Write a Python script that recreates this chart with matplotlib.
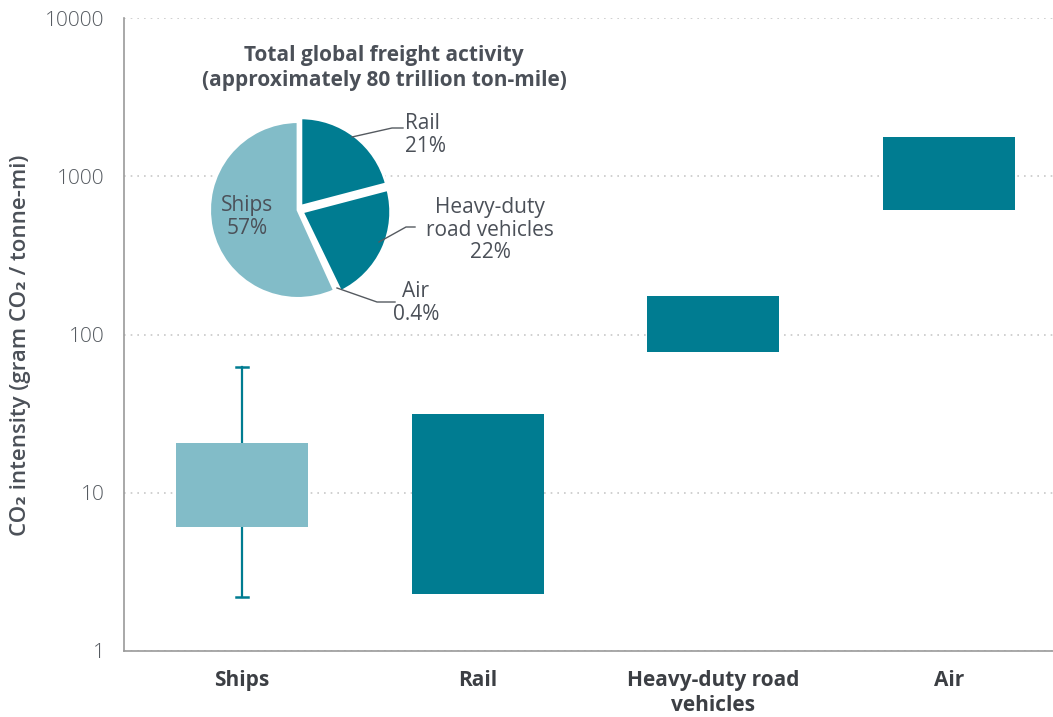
import matplotlib.pyplot as plt

plt.rcParams['font.family'] = ['Open Sans', 'DejaVu Sans']

# CO2 intensity ranges per mode (gram CO2 / tonne-mi), log scale
modes = ["Ships", "Rail", "Heavy-duty road\nvehicles", "Air"]
low = [6.1, 2.3, 77, 610]
high = [20.7, 31.6, 174, 1760]
ship_whisker = [2.2, 62]

# share of total freight activity
pie_labels = ["Rail", "Heavy-duty road vehicles", "Air", "Ships"]
pie_shares = [21, 22, 0.4, 57]

light = "#82bcc8"
dark = "#007c91"
text_col = "#4b5058"
axis_col = "#9a9a9a"

fig = plt.figure(figsize=(10.53, 7.17), dpi=100)
ax = fig.add_axes([124 / 1053, 66 / 717, 929 / 1053, 633 / 717])

x = list(range(len(modes)))
heights = [h - l for h, l in zip(high, low)]
colors = [light, dark, dark, dark]
ax.bar(x, heights, bottom=low, width=0.56, color=colors, zorder=3)

# whiskers on the ships bar
ax.plot([0, 0], [ship_whisker[0], low[0]], color=dark, lw=1.6, zorder=2)
ax.plot([0, 0], [high[0], ship_whisker[1]], color=dark, lw=1.6, zorder=2)
for v in ship_whisker:
    ax.plot([-0.025, 0.025], [v, v], color=dark, lw=1.8, zorder=2)

ax.set_yscale("log")
ax.set_ylim(1, 10000)
ax.set_xlim(-0.5, 3.44)
ax.set_yticks([1, 10, 100, 1000, 10000])
ax.set_yticklabels(["1", "10", "100", "1000", "10000"])
ax.minorticks_off()
ax.set_xticks(x)
ax.set_xticklabels(modes, fontsize=15, fontweight="bold", color="#3c3f44",
                   linespacing=1.2, va="top")
ax.tick_params(axis="x", length=0, pad=14)
ax.tick_params(axis="y", length=0, pad=14, labelsize=15, labelcolor="#555a60")
for t in ax.get_yticklabels():
    t.set_fontweight("light")
ax.grid(axis="y", linestyle=(0, (1, 3)), color="#c8c8c8", lw=1.2, zorder=0)
for s in ["top", "right"]:
    ax.spines[s].set_visible(False)
for s in ["left", "bottom"]:
    ax.spines[s].set_color(axis_col)
    ax.spines[s].set_linewidth(1.2)

fig.text(21 / 1053, 1 - 345 / 717, "CO\u2082 intensity (gram CO\u2082 / tonne-mi)",
         rotation=90, ha="center", va="center", fontsize=16,
         fontweight="semibold", color=text_col)

# inset pie of freight activity
pax = fig.add_axes([(298 - 95) / 1053, 1 - (210 + 95) / 717, 190 / 1053, 190 / 717])
wedges, _ = pax.pie(pie_shares, startangle=90, counterclock=False,
                    colors=[dark, dark, dark, light],
                    explode=[0.05, 0.05, 0.05, 0],
                    radius=0.93,
                    wedgeprops=dict(edgecolor="white", linewidth=2))
pax.set_xlim(-1, 1)
pax.set_ylim(-1, 1)
pax.set_aspect("equal")

fig.text(384 / 1053, 1 - 68 / 717,
         "Total global freight activity\n(approximately 80 trillion ton-mile)",
         ha="center", va="center", fontsize=15, fontweight="bold",
         color=text_col, linespacing=1.2)

lab_kw = dict(fontsize=15, color=text_col, linespacing=1.1)
fig.text(247 / 1053, 1 - 217 / 717, "Ships\n57%", ha="center", va="center", **lab_kw)
fig.text(405 / 1053, 1 - 135 / 717, "Rail\n21%", ha="left", va="center", **lab_kw)
fig.text(490 / 1053, 1 - 230 / 717, "Heavy-duty\nroad vehicles\n22%",
         ha="center", va="center", **lab_kw)
fig.text(416 / 1053, 1 - 303 / 717, "Air\n0.4%", ha="center", va="center", **lab_kw)

# leader lines, drawn in figure pixels
leaders = [
    [(352, 137), (392, 128), (403, 128)],
    [(379, 242), (406, 227), (415, 227)],
    [(337, 288), (377, 302), (395, 302)],
]
for pts in leaders:
    xs = [p[0] / 1053 for p in pts]
    ys = [1 - p[1] / 717 for p in pts]
    fig.add_artist(plt.Line2D(xs, ys, color="#555a60", lw=1, transform=fig.transFigure))

fig.savefig("out.png", dpi=100)
